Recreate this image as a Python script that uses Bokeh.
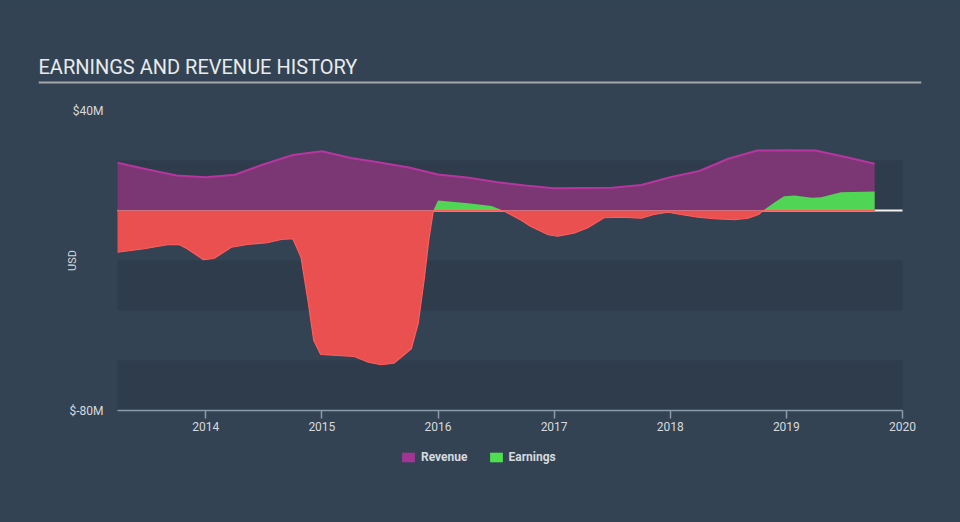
import math
from bokeh.plotting import figure
from bokeh.models import FixedTicker, Legend, LegendItem, Span
from bokeh.core.properties import value
from bokeh.embed import file_html
from bokeh.resources import INLINE

# ---------------- data (USD millions, decimal years) ----------------
rev_x = [2013.24, 2013.5, 2013.75, 2014.0, 2014.25, 2014.5, 2014.75, 2015.0, 2015.25,
         2015.5, 2015.75, 2016.0, 2016.25, 2016.5, 2016.75, 2017.0, 2017.25, 2017.5,
         2017.75, 2018.0, 2018.25, 2018.5, 2018.75, 2019.0, 2019.25, 2019.5, 2019.76]
rev_v = [19.1, 16.4, 14.0, 13.3, 14.3, 18.5, 22.2, 23.7, 21.0,
         19.2, 17.2, 14.4, 13.2, 11.4, 10.0, 8.9, 9.0, 9.1,
         10.2, 13.3, 15.8, 20.7, 24.0, 24.1, 24.0, 21.5, 18.7]

earn_x = [2013.24, 2013.47, 2013.67, 2013.77, 2013.84, 2013.98, 2014.07, 2014.22, 2014.36,
          2014.53, 2014.65, 2014.75, 2014.82, 2014.88, 2014.93, 2014.99, 2015.28, 2015.40,
          2015.51, 2015.62, 2015.77, 2015.83, 2015.88, 2015.92, 2015.96, 2016.00, 2016.26,
          2016.46, 2016.56, 2016.72, 2016.80, 2016.95, 2017.03, 2017.17, 2017.29, 2017.43,
          2017.58, 2017.75, 2017.86, 2017.98, 2018.09, 2018.24, 2018.38, 2018.55, 2018.67,
          2018.76, 2018.80, 2018.90, 2018.98, 2019.07, 2019.22, 2019.30, 2019.47, 2019.76]
earn_v = [-16.7, -15.3, -13.7, -13.6, -15.3, -19.7, -19.2, -14.7, -13.6,
          -12.9, -11.6, -11.3, -18.7, -36.0, -52.0, -57.6, -58.4, -60.7,
          -61.7, -61.1, -55.3, -45.0, -28.0, -12.0, 0.0, 4.0, 2.9,
          1.8, 0.0, -4.0, -6.4, -9.7, -10.3, -9.1, -6.9, -2.9,
          -2.7, -3.1, -1.6, -0.7, -1.6, -2.7, -3.3, -3.7, -3.1,
          -1.6, 0.0, 3.3, 5.7, 6.0, 5.1, 5.3, 7.3, 7.6]

year_ticks = [2014, 2015, 2016, 2017, 2018, 2019, 2020]
y_ticks = [40, -80]
y_tick_labels = ["$40M", "$-80M"]
y_label = "USD"
band_bottoms = [0, -40, -80]
band_tops = [20, -20, -60]

title_text = "EARNINGS AND REVENUE HISTORY"
series_names = ["Revenue", "Earnings"]

# ---------------- styling ----------------
BG = "#334354"
BAND = "#2e3c4c"
REV_FILL = "#7b3774"
REV_LINE = "#b7359f"
GREEN = "#50d654"
RED = "#ea5050"
RED_EDGE = "#ff5c5c"
TEXT = "#d6dade"
FONT = "Roboto"

# pixel geometry: data x 117..902, 40M at y=110, -80M at y=410
x_start, x_end = 2013.24, 2020.0
px_per_year = (902 - 117) / (x_end - x_start)
px_per_m = 300 / 120.0
F_LEFT, F_RIGHT, F_TOP, F_BOTTOM = 38, 921, 78, 482
x_lo = x_start - (117 - F_LEFT) / px_per_year
x_hi = x_end + (F_RIGHT - 902) / px_per_year
y_hi = 40 + (110 - F_TOP) / px_per_m
y_lo = -80 - (F_BOTTOM - 410) / px_per_m

def x_at(px):
    return x_start + (px - 117) / px_per_year

def y_at(py):
    return 40 - (py - 110) / px_per_m

p = figure(width=960, height=522, output_backend="svg", toolbar_location=None,
           x_range=(x_lo, x_hi), y_range=(y_lo, y_hi), y_axis_location=None,
           min_border_left=F_LEFT, min_border_right=960 - F_RIGHT,
           min_border_top=F_TOP, min_border_bottom=522 - F_BOTTOM)
p.background_fill_color = BG
p.border_fill_color = BG
p.outline_line_color = None
p.xgrid.visible = False
p.ygrid.visible = False

# bands
p.quad(left=[x_start] * 3, right=[x_end] * 3, bottom=band_bottoms, top=band_tops,
       fill_color=BAND, line_color=None)

# zero line
p.line([x_start, x_end], [0, 0], line_color="#f2f2f2", line_width=2)

# revenue
p.varea(x=rev_x, y1=[0] * len(rev_x), y2=rev_v, fill_color=REV_FILL)
p.line(rev_x, rev_v, line_color=REV_LINE, line_width=2)

# earnings split positive / negative
pos = [max(v, 0) for v in earn_v]
neg = [min(v, 0) for v in earn_v]
p.varea(x=earn_x, y1=[0] * len(earn_x), y2=pos, fill_color=GREEN)
p.varea(x=earn_x, y1=[0] * len(earn_x), y2=neg, fill_color=RED)
p.line(earn_x, neg, line_color=RED_EDGE, line_width=1.2)

# zero-thickness proxies that only supply the legend swatches
leg_rev = p.varea(x=rev_x, y1=rev_v, y2=rev_v, fill_color="#a23594")
leg_earn = p.varea(x=earn_x, y1=pos, y2=pos, fill_color="#4fe04f")

# x axis, pinned at -80M and limited to the data span
xa = p.xaxis[0]
xa.fixed_location = -80
xa.bounds = (x_start, x_end)
xa.ticker = FixedTicker(ticks=year_ticks)
xa.axis_line_color = "#8d9bab"
xa.axis_line_width = 1.5
xa.major_tick_line_color = "#8d9bab"
xa.major_tick_line_width = 1.5
xa.major_tick_in = 0
xa.major_tick_out = 8
xa.minor_tick_line_color = None
xa.major_label_text_color = TEXT
xa.major_label_text_font = FONT
xa.major_label_text_font_size = "12px"
xa.major_label_standoff = 3

# y tick labels and axis title, placed through the y scale
p.text(x=[x_at(103)] * len(y_ticks), y=y_ticks, text=y_tick_labels,
       text_font=value(FONT), text_font_size="12px", text_color=TEXT,
       text_align="right", text_baseline="middle")
p.text(x=[x_at(72)], y=[y_at(260)], text=[y_label], angle=math.pi / 2,
       text_font=value(FONT), text_font_size="11px", text_color=TEXT,
       text_align="center", text_baseline="middle")

# title
p.title.text = title_text
p.title.align = "left"
p.title.offset = 0
p.title.standoff = 0
p.title.text_font = FONT
p.title.text_font_size = "20px"
p.title.text_font_style = "normal"
p.title.text_color = "#e8eaec"

# title rule across the full frame width
p.add_layout(Span(location=y_at(82), dimension="width", line_color="#a4a8ac",
                  line_width=2))

# legend inside the frame, under the x axis
legend = Legend(items=[LegendItem(label=series_names[0], renderers=[leg_rev]),
                       LegendItem(label=series_names[1], renderers=[leg_earn])],
                orientation="horizontal", location=(400 - F_LEFT, F_BOTTOM - 464),
                padding=0, margin=0, spacing=20, label_standoff=5,
                glyph_width=16, glyph_height=12, label_height=12,
                label_text_font=FONT, label_text_font_size="12px",
                label_text_color=TEXT, label_text_font_style="bold",
                background_fill_alpha=0, border_line_alpha=0)
p.add_layout(legend, "center")

html = file_html(p, INLINE)
html = html.replace("<head>", "<head><style>html, body { background: %s; margin: 0; }</style>" % BG, 1)
open("out.html", "w").write(html)
